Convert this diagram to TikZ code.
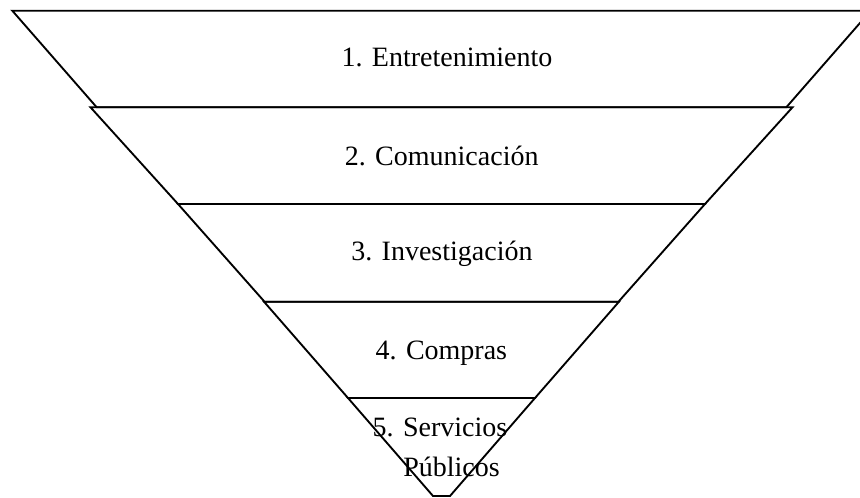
\documentclass[tikz,border=0pt]{standalone}
\usepackage{fontspec}
\setmainfont{Liberation Serif}
\usepackage{tikz}
\usetikzlibrary{positioning}
\tikzstyle{tier}=[draw=black, line width=1.4pt, line join=miter]
\tikzstyle{tier text}=[anchor=base, inner sep=0pt, font=\fontsize{21}{29}\selectfont]

\begin{document}
\begin{tikzpicture}[x=0.75pt, y=-0.75pt]
  \useasboundingbox (0,0) rectangle (860,498);
  \clip (0,0) rectangle (860,498);

  % the five layers of the funnel, top to bottom
  \foreach \yt/\wt/\yb/\wb in {10.7/429.2/107.3/344.8, 107.3/351/204/263.5, 204/263.5/301.7/177, 301.7/177.5/398/93.5, 398/93.5/496/8.5}
    \draw[tier] (441.5-\wt,\yt) -- (441.5+\wt,\yt) -- (441.5+\wb,\yb) -- (441.5-\wb,\yb) -- cycle;

  \node[tier text] (entret) at (447,67) {1. Entretenimiento};
  \node[tier text] (comun) at (441.7,166) {2. Comunicación};
  \node[tier text] (invest) at (442,261) {3. Investigación};
  \node[tier text] (compras) at (441.4,360) {4. Compras};
  \node[tier text] (servic) at (440,436.7) {5. Servicios};
  \node[tier text] (public) at (451.5,476.5) {Públicos};
\end{tikzpicture}
\end{document}
